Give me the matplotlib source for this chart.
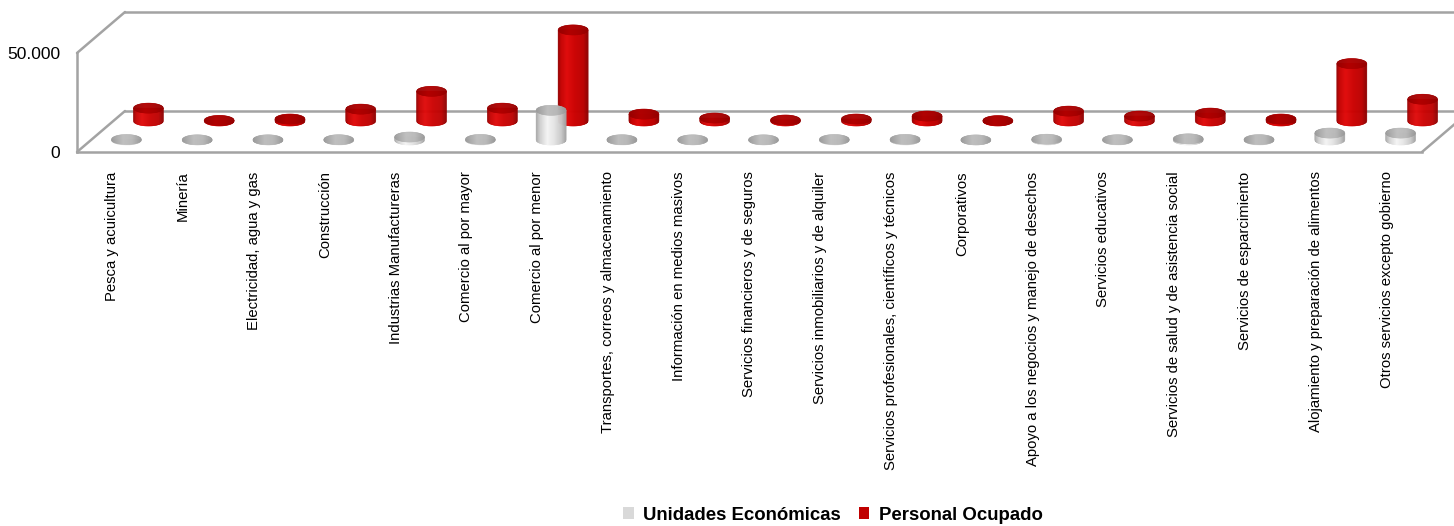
import numpy as np
import matplotlib
matplotlib.use("Agg")
import matplotlib.pyplot as plt
from matplotlib.transforms import offset_copy
from matplotlib.collections import PolyCollection
from matplotlib.colors import LinearSegmentedColormap
from matplotlib.patches import ConnectionPatch, Patch

categories = [
    "Pesca y acuicultura", "Minería", "Electricidad, agua y gas", "Construcción",
    "Industrias Manufactureras", "Comercio al por mayor", "Comercio al por menor",
    "Transportes, correos y almacenamiento", "Información en medios masivos",
    "Servicios financieros y de seguros", "Servicios inmobiliarios y de alquiler",
    "Servicios profesionales, científicos y técnicos", "Corporativos",
    "Apoyo a los negocios y manejo de desechos", "Servicios educativos",
    "Servicios de salud y de asistencia social", "Servicios de esparcimiento",
    "Alojamiento y preparación de alimentos", "Otros servicios excepto gobierno",
]
unidades = [250, 100, 100, 150, 1500, 300, 15000, 150, 100, 100, 250, 300, 50,
            400, 150, 600, 200, 3500, 3500]
personal = [6500, 300, 1000, 6000, 15000, 6500, 46000, 3500, 1500, 500, 1000,
            2500, 200, 5000, 2500, 4000, 1000, 29000, 11000]
series_names = ["Unidades Económicas", "Personal Ocupado"]
ytick_vals = [0, 50000]
ytick_labels = ["0", "50.000"]

W, H = 1454, 526
fig = plt.figure(figsize=(W / 100, H / 100), dpi=100)
ax = fig.add_axes([77 / W, 374 / H, 1345 / W, 99 / H])
n = len(categories)
ax.set_xlim(-0.5, n - 0.5)
ax.set_ylim(0, 50000)
for s in ax.spines.values():
    s.set_visible(False)
ax.set_xticks(range(n))
ax.set_xticklabels(categories, rotation=90, fontsize=10.7,
                   family=["Liberation Sans", "DejaVu Sans"])
ax.set_yticks(ytick_vals)
ax.set_yticklabels(ytick_labels, fontsize=12.5,
                   family=["Liberation Sans", "DejaVu Sans"])
ax.tick_params(axis="x", length=0, pad=14)
ax.tick_params(axis="y", length=0, pad=12)
ax.patch.set_visible(False)

# depth offsets (pixels)
DEPTH = (48, 41)
back = offset_copy(ax.transData, fig=fig, x=DEPTH[0], y=DEPTH[1], units="dots")
grey_tr = offset_copy(ax.transData, fig=fig, x=14, y=12, units="dots")
red_tr = offset_copy(ax.transData, fig=fig, x=36, y=31, units="dots")

lc = "#a3a3a3"
lw = 1.8
x0, x1 = -0.5, n - 0.5
ax.plot([x0, x1], [50000, 50000], transform=back, color=lc, lw=lw, clip_on=False, zorder=1)
ax.plot([x0, x1], [0, 0], transform=back, color=lc, lw=lw, clip_on=False, zorder=1)
ax.plot([x0, x0], [0, 50000], color=lc, lw=lw, clip_on=False, zorder=1)
ax.plot([x0, x1], [0, 0], color=lc, lw=lw, clip_on=False, zorder=1)
for (xa, ya) in [(x0, 0), (x0, 50000), (x1, 0)]:
    cp = ConnectionPatch(xyA=(xa, ya), coordsA=ax.transData, xyB=(xa, ya), coordsB=back,
                         color=lc, lw=lw, zorder=1)
    fig.add_artist(cp)

# pixel -> data scales
p0 = ax.transData.transform((0, 0))
p1 = ax.transData.transform((1, 50000))
px_x = p1[0] - p0[0]
px_y = (p1[1] - p0[1]) / 50000.0
hw = 15.0 / px_x
eh = 5.0 / px_y

red_body = LinearSegmentedColormap.from_list("rb", [
    (0.0, "#900000"), (0.1, "#c40000"), (0.3, "#e00808"), (0.55, "#cc0000"),
    (0.85, "#bb0000"), (1.0, "#8c0000")])
red_top = LinearSegmentedColormap.from_list("rt", [
    (0.0, "#950000"), (0.4, "#b00000"), (0.7, "#a80000"), (1.0, "#950000")])
grey_body = LinearSegmentedColormap.from_list("gb", [
    (0.0, "#a5a5a5"), (0.15, "#d2d2d2"), (0.38, "#f4f4f4"), (0.6, "#e6e6e6"),
    (0.85, "#c8c8c8"), (1.0, "#a2a2a2")])
grey_top = LinearSegmentedColormap.from_list("gt", [
    (0.0, "#9a9a9a"), (0.4, "#bdbdbd"), (0.7, "#b8b8b8"), (1.0, "#9a9a9a")])


def cylinder(xc, v, trans, cb, ct, z):
    N = 30
    xs = np.linspace(xc - hw, xc + hw, N + 1)
    body, bcols, top, tcols = [], [], [], []
    for k in range(N):
        a, b = xs[k], xs[k + 1]
        u = np.linspace(a, b, 4)
        r = np.sqrt(np.clip(1 - ((u - xc) / hw) ** 2, 0, 1))
        poly = [(a, v)] + list(zip(u, -eh * r)) + [(b, v)]
        body.append(poly)
        bcols.append(cb((k + 0.5) / N))
        tpoly = list(zip(u, v + eh * r)) + list(zip(u[::-1], v - eh * r[::-1]))
        top.append(tpoly)
        tcols.append(ct((k + 0.5) / N))
    pc = PolyCollection(body, facecolors=bcols, edgecolors=bcols, linewidths=0.4,
                        transform=trans, clip_on=False, zorder=z)
    ax.add_collection(pc)
    tc = PolyCollection(top, facecolors=tcols, edgecolors=tcols, linewidths=0.4,
                        transform=trans, clip_on=False, zorder=z + 0.1)
    ax.add_collection(tc)


for i, v in enumerate(personal):
    cylinder(i, v, red_tr, red_body, red_top, 3)
for i, v in enumerate(unidades):
    cylinder(i, v, grey_tr, grey_body, grey_top, 5)

handles = [Patch(facecolor="#d9d9d9", edgecolor="none", label=series_names[0]),
           Patch(facecolor="#c00000", edgecolor="none", label=series_names[1])]
fig.legend(handles=handles, loc="center", bbox_to_anchor=(833 / W, 11 / H), ncol=2,
           frameon=False, prop={"family": "Liberation Sans", "weight": "bold", "size": 13.4},
           handlelength=0.55, handleheight=0.55, handletextpad=0.5, columnspacing=1.0,
           borderaxespad=0, borderpad=0)

fig.savefig("out.png", dpi=100)
